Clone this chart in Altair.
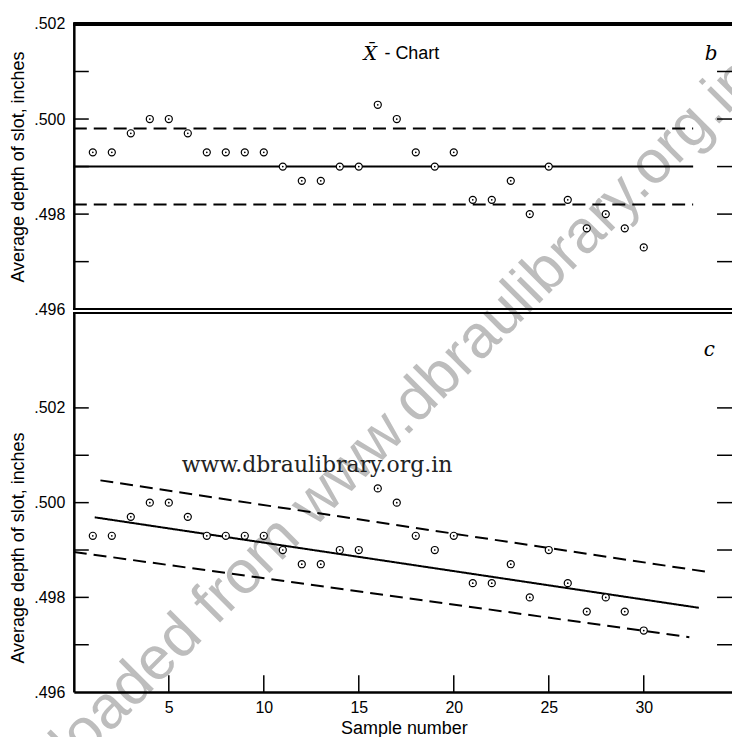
import altair as alt
import pandas as pd

# ---------------- data ----------------
samples = list(range(1, 31))
depth = [0.4993, 0.4993, 0.4997, 0.5000, 0.5000, 0.4997, 0.4993, 0.4993, 0.4993, 0.4993,
         0.4990, 0.4987, 0.4987, 0.4990, 0.4990, 0.5003, 0.5000, 0.4993, 0.4990, 0.4993,
         0.4983, 0.4983, 0.4987, 0.4980, 0.4990, 0.4983, 0.4977, 0.4980, 0.4977, 0.4973]

limit_names = ["UCL", "CL", "LCL"]
limit_values = [0.4998, 0.4990, 0.4982]
limit_style = ["dashed", "solid", "dashed"]
limit_x_start = [0.0, 0.0, 0.0]
limit_x_end = [32.6, 32.6, 32.6]

trend_names = ["upper", "center", "lower"]
trend_style = ["dashed", "solid", "dashed"]
trend_x_start = [1.4, 1.1, 0.0]
trend_y_start = [0.50047, 0.49969, 0.49896]
trend_x_end = [33.3, 32.9, 32.4]
trend_y_end = [0.49854, 0.49778, 0.49716]

y_label_values = [0.496, 0.498, 0.500, 0.502]
top_tick_values = [0.497, 0.498, 0.499, 0.500, 0.501]
bottom_tick_values = [0.497, 0.498, 0.499, 0.500, 0.501, 0.502]
x_tick_values = [5, 10, 15, 20, 25, 30]
x_domain = [0, 34.75]
top_y_domain = [0.496, 0.502]
bottom_y_domain = [0.496, 0.504]

# ---------------- chart ----------------
W, HT, HB = 662, 286, 380
FONT = "Liberation Sans"
SERIF = "DejaVu Serif"

xs = alt.Scale(domain=x_domain, nice=False, zero=False)
yts = alt.Scale(domain=top_y_domain, nice=False, zero=False)
ybs = alt.Scale(domain=bottom_y_domain, nice=False, zero=False)

label_expr = "replace(format(datum.value, '.3f'), '0.', '.')"


def y_axis(title_y):
    return alt.Axis(values=y_label_values, labelExpr=label_expr, ticks=False, tickSize=0,
                    grid=False, domainColor="black", domainWidth=2.5, labelFont=FONT,
                    labelFontSize=16, labelColor="black", labelPadding=9, labelOverlap=False,
                    labelFlush=False, title="Average depth of slot, inches", titleFont=FONT,
                    titleFontSize=18, titleFontWeight="normal", titleColor="black",
                    titleX=-55, titleY=title_y, titleAngle=270, titleAlign="center",
                    titleBaseline="middle")


top_y_axis = y_axis(HT / 2)
bot_y_axis = y_axis(235)
bot_x_axis = alt.Axis(values=x_tick_values, ticks=False, tickSize=0, grid=False,
                      domainColor="black", domainWidth=2.5, labelFont=FONT, labelFontSize=16,
                      labelColor="black", labelPadding=7, labelFlush=False, labelOverlap=False,
                      title="Sample number", titleFont=FONT, titleFontSize=18,
                      titleFontWeight="normal", titleColor="black", titlePadding=4)


def X(field, axis):
    return alt.X(field, type="quantitative", scale=xs, axis=axis)


def YT(field):
    return alt.Y(field, type="quantitative", scale=yts, axis=top_y_axis)


def YB(field):
    return alt.Y(field, type="quantitative", scale=ybs, axis=bot_y_axis)


dash_scale = alt.Scale(domain=["dashed", "solid"], range=[[13, 7], [1, 0]])

pts = pd.DataFrame({"sample": samples, "depth": depth})
limits = pd.DataFrame({"name": limit_names, "value": limit_values, "style": limit_style,
                       "x0": limit_x_start, "x1": limit_x_end})
trends = pd.DataFrame({"name": trend_names, "style": trend_style, "x0": trend_x_start,
                       "y0": trend_y_start, "x1": trend_x_end, "y1": trend_y_end})
top_ticks = pd.DataFrame({"v": top_tick_values})
bot_ticks = pd.DataFrame({"v": bottom_tick_values})
x_ticks = pd.DataFrame({"v": x_tick_values})

# ---- top panel ----
wm_df = pd.DataFrame({"x": [14.55], "y": [0.49268]})
watermark = alt.Chart(wm_df).mark_text(
    text="Downloaded from www.dbraulibrary.org.in", angle=315, fontSize=61, font=FONT,
    color="#bdbdbd", align="center", baseline="middle"
).encode(x=X("x", None), y=YT("y"))

top_limits = alt.Chart(limits).mark_rule(color="black", strokeWidth=2).encode(
    x=X("x0", None), x2="x1", y=YT("value"),
    strokeDash=alt.StrokeDash("style:N", scale=dash_scale, legend=None))

top_border = alt.Chart(pts).mark_rule(color="black", strokeWidth=2.5).encode(
    x=alt.value(0), x2=alt.value(W), y=alt.value(0))
top_bottom_border = alt.Chart(pts).mark_rule(color="black", strokeWidth=1.5).encode(
    x=alt.value(0), x2=alt.value(W), y=alt.value(HT))
top_left_ticks = alt.Chart(top_ticks).mark_rule(color="black", strokeWidth=1.5).encode(
    y=YT("v"), x=alt.value(0), x2=alt.value(15))
top_right_ticks = alt.Chart(top_ticks).mark_rule(color="black", strokeWidth=1.5).encode(
    y=YT("v"), x=alt.value(W - 17), x2=alt.value(W))
top_pts = alt.Chart(pts).mark_point(shape="circle", size=50, filled=True, fill="white",
                                    stroke="black", strokeWidth=1.2, opacity=1).encode(
    x=X("sample", None), y=YT("depth"))
top_dots = alt.Chart(pts).mark_point(shape="circle", size=3, filled=True, color="black",
                                     opacity=1).encode(x=X("sample", None), y=YT("depth"))

title_df = pd.DataFrame({"x": [15.6], "y": [0.50137]})
xbar = alt.Chart(title_df).mark_text(text="X\u0304", font=SERIF, fontStyle="italic",
                                     fontSize=19, color="black", align="center",
                                     baseline="middle").encode(x=X("x", None), y=YT("y"))
chart_df = pd.DataFrame({"x": [16.35], "y": [0.50137]})
chart_word = alt.Chart(chart_df).mark_text(text="- Chart", font=FONT, fontSize=18,
                                           color="black", align="left",
                                           baseline="middle").encode(x=X("x", None), y=YT("y"))
b_df = pd.DataFrame({"x": [33.55], "y": [0.50137]})
b_label = alt.Chart(b_df).mark_text(text="b", font=SERIF, fontStyle="italic", fontSize=20,
                                    color="black", align="center",
                                    baseline="middle").encode(x=X("x", None), y=YT("y"))

top = alt.layer(watermark, top_limits, top_border, top_bottom_border, top_left_ticks,
                top_right_ticks, top_pts, top_dots, xbar, chart_word, b_label
                ).properties(width=W, height=HT)

# ---- bottom panel ----
bot_trends = alt.Chart(trends).mark_rule(color="black", strokeWidth=2).encode(
    x=X("x0", bot_x_axis), x2="x1", y=YB("y0"), y2="y1",
    strokeDash=alt.StrokeDash("style:N", scale=dash_scale, legend=None))
bot_border = alt.Chart(pts).mark_rule(color="black", strokeWidth=1.5).encode(
    x=alt.value(0), x2=alt.value(W), y=alt.value(0))
bot_left_ticks = alt.Chart(bot_ticks).mark_rule(color="black", strokeWidth=1.5).encode(
    y=YB("v"), x=alt.value(0), x2=alt.value(15))
bot_right_ticks = alt.Chart(bot_ticks).mark_rule(color="black", strokeWidth=1.5).encode(
    y=YB("v"), x=alt.value(W - 17), x2=alt.value(W))
bot_x_ticks = alt.Chart(x_ticks).mark_rule(color="black", strokeWidth=1.5).encode(
    x=X("v", bot_x_axis), y=alt.value(HB), y2=alt.value(HB - 17))
bot_pts = alt.Chart(pts).mark_point(shape="circle", size=50, filled=True, fill="white",
                                    stroke="black", strokeWidth=1.2, opacity=1).encode(
    x=X("sample", bot_x_axis), y=YB("depth"))
bot_dots = alt.Chart(pts).mark_point(shape="circle", size=3, filled=True, color="black",
                                     opacity=1).encode(x=X("sample", bot_x_axis), y=YB("depth"))
url_df = pd.DataFrame({"x": [12.8], "y": [0.5008]})
url_text = alt.Chart(url_df).mark_text(text="www.dbraulibrary.org.in", font=SERIF, fontSize=22,
                                       color="#222222", align="center",
                                       baseline="middle").encode(x=X("x", bot_x_axis), y=YB("y"))
c_df = pd.DataFrame({"x": [33.45], "y": [0.50322]})
c_label = alt.Chart(c_df).mark_text(text="c", font=SERIF, fontStyle="italic", fontSize=20,
                                    color="black", align="center",
                                    baseline="middle").encode(x=X("x", bot_x_axis), y=YB("y"))

bottom = alt.layer(bot_trends, bot_border, bot_left_ticks, bot_right_ticks, bot_x_ticks,
                   bot_pts, bot_dots, url_text, c_label).properties(width=W, height=HB)

chart = alt.vconcat(top, bottom, spacing=4, bounds="flush").properties(
    padding={"left": -78, "top": 7, "right": -38, "bottom": -151},
    background="white"
).configure_view(stroke=None)

chart.save("out.html", embed_options={"renderer": "svg", "actions": False})
